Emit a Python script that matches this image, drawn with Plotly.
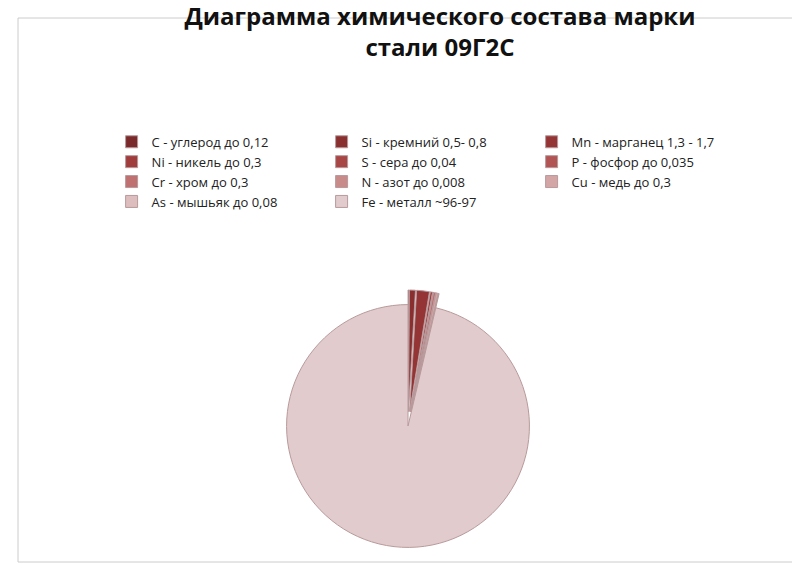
import plotly.graph_objects as go

labels = ["C - углерод до 0,12", "Si - кремний 0,5- 0,8", "Mn - марганец 1,3 - 1,7",
          "Ni - никель до 0,3", "S - сера до 0,04", "P - фосфор до 0,035",
          "Cr - хром до 0,3", "N - азот до 0,008", "Cu - медь до 0,3",
          "As - мышьяк до 0,08", "Fe - металл ~96-97"]
values = [0.12, 0.8, 1.7, 0.3, 0.04, 0.035, 0.3, 0.008, 0.3, 0.08, 96.5]
colors = ["#7a2a2a", "#8a2f2f", "#953434", "#a03c3c", "#a84545", "#b35454",
          "#bf7070", "#c98a8a", "#d3a5a5", "#ddbdbd", "#e2cbcc"]
pulls = [0.12] * 10 + [0]

fig = go.Figure(go.Pie(
    labels=labels, values=values, sort=False, direction="clockwise", rotation=0,
    marker=dict(colors=colors, line=dict(color="#b89a9c", width=1)),
    pull=pulls, textinfo="none", hoverinfo="label+value",
    domain=dict(x=[0.1, 0.9], y=[0.0, 0.5])))

fig.update_layout(
    width=800, height=564, paper_bgcolor="white", plot_bgcolor="white",
    margin=dict(l=10, r=10, t=10, b=10),
    title=dict(text="<b>Диаграмма химического состава марки<br>стали 09Г2С</b>",
               x=0.54, y=0.97, xanchor="center", yanchor="top",
               font=dict(family="Open Sans, DejaVu Sans", size=24, color="#111")),
    legend=dict(orientation="h", x=0.12, y=0.8, xanchor="left", yanchor="top",
                entrywidth=165, entrywidthmode="pixels", traceorder="normal",
                font=dict(family="Open Sans, DejaVu Sans", size=13, color="#222"),
                tracegroupgap=6),
    shapes=[dict(type="rect", xref="paper", yref="paper", x0=0, y0=0,
                 x1=1, y1=1, line=dict(color="#cccccc", width=1))])

fig.write_html("out.html")
